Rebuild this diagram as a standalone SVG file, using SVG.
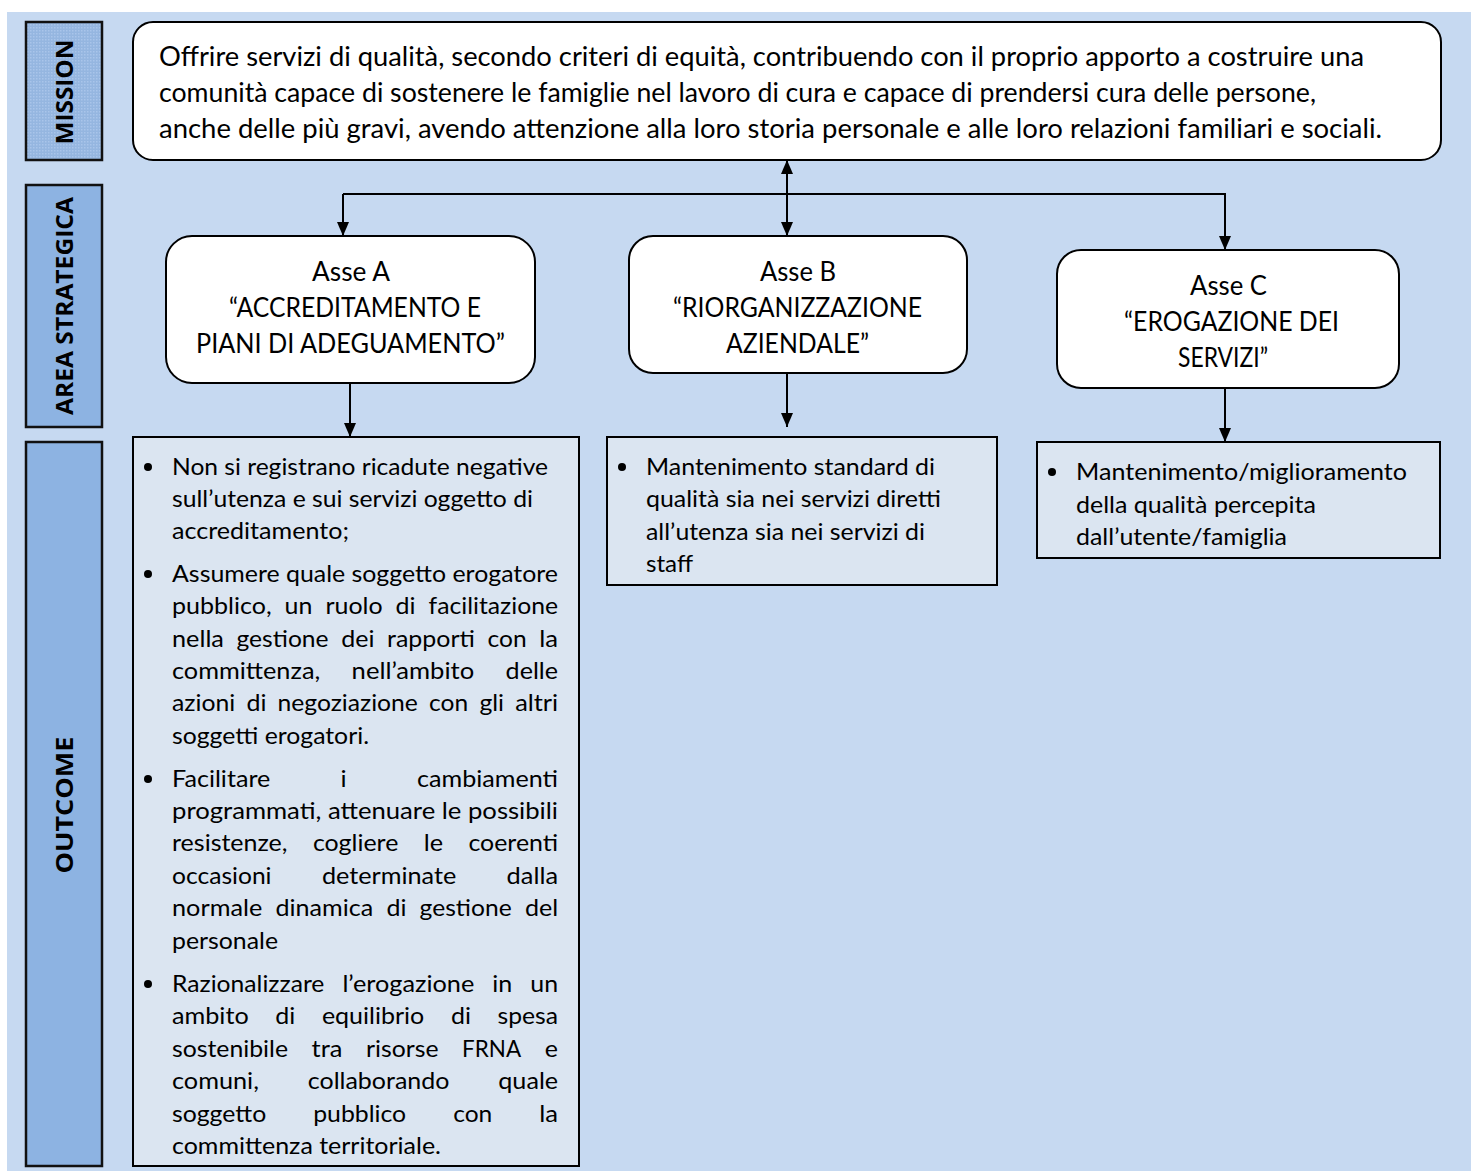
<svg xmlns="http://www.w3.org/2000/svg" width="1476" height="1171" viewBox="0 0 1476 1171">
<defs>
<style>
.t{font-family:Lato,"Open Sans","Liberation Sans",sans-serif;fill:#000}
.m{font-size:26px}
.a{font-size:26px}
.o{font-size:24px}
.lab{font-family:"Open Sans",Lato,"Liberation Sans",sans-serif;font-size:23px;font-weight:bold;fill:#000}
.node{fill:#fff;stroke:#000;stroke-width:2}
.out{fill:#dbe5f1;stroke:#000;stroke-width:2}
.lbox{stroke:#111;stroke-width:2.5}
.c{fill:none;stroke:#000;stroke-width:2}
</style>
<pattern id="dots" width="3" height="3" patternUnits="userSpaceOnUse">
<rect width="3" height="3" fill="#95b6e0"/>
<rect width="1.5" height="1.5" fill="#a9c5ea"/>
</pattern>
<marker id="ah" viewBox="0 0 14 12" refX="14" refY="6" markerWidth="14" markerHeight="12" markerUnits="userSpaceOnUse" orient="auto">
<path d="M0,0 L14,6 L0,12 Z" fill="#000"/>
</marker>
<marker id="ahs" viewBox="0 0 14 12" refX="0" refY="6" markerWidth="14" markerHeight="12" markerUnits="userSpaceOnUse" orient="auto">
<path d="M14,0 L0,6 L14,12 Z" fill="#000"/>
</marker>
</defs>
<rect x="0" y="0" width="1476" height="1171" fill="#fff"/>
<rect x="7" y="12" width="1464" height="1159" fill="#c6d9f1"/>

<g id="label-mission">
<rect class="lbox" x="26" y="22" width="76" height="138" fill="url(#dots)"/>
<text class="lab" transform="translate(73,92) rotate(-90)" text-anchor="middle" textLength="105" lengthAdjust="spacingAndGlyphs">MISSION</text>
</g>
<g id="label-area">
<rect class="lbox" x="26" y="185" width="76" height="242" fill="#8db3e2"/>
<text class="lab" transform="translate(73,306) rotate(-90)" text-anchor="middle" textLength="218" lengthAdjust="spacingAndGlyphs">AREA STRATEGICA</text>
</g>
<g id="label-outcome">
<rect class="lbox" x="26" y="442" width="76" height="724" fill="#8db3e2"/>
<text class="lab" transform="translate(73,805) rotate(-90)" text-anchor="middle" textLength="137" lengthAdjust="spacingAndGlyphs">OUTCOME</text>
</g>

<g id="connectors">
<path class="c" d="M787,160 V236" marker-start="url(#ahs)" marker-end="url(#ah)"/>
<path class="c" d="M343,194 H1225 V250" marker-end="url(#ah)"/>
<path class="c" d="M343,194 V236" marker-end="url(#ah)"/>
<path class="c" d="M350,383 V437" marker-end="url(#ah)"/>
<path class="c" d="M787,373 V427" marker-end="url(#ah)"/>
<path class="c" d="M1225,388 V442" marker-end="url(#ah)"/>
</g>

<g id="mission">
<rect class="node" x="133" y="22" width="1308" height="138" rx="20"/>
<text class="t m" x="159" y="66" textLength="1205" lengthAdjust="spacingAndGlyphs">Offrire servizi di qualità, secondo criteri di equità, contribuendo con il proprio apporto a costruire una</text>
<text class="t m" x="159" y="102" textLength="1157" lengthAdjust="spacingAndGlyphs">comunità capace di sostenere le famiglie nel lavoro di cura e capace di prendersi cura delle persone,</text>
<text class="t m" x="159" y="138" textLength="1223" lengthAdjust="spacingAndGlyphs">anche delle più gravi, avendo attenzione alla loro storia personale e alle loro relazioni familiari e sociali.</text>
</g>

<g id="asse-a">
<rect class="node" x="166" y="236" width="369" height="147" rx="26"/>
<text class="t a" x="351" y="281" text-anchor="middle" textLength="78" lengthAdjust="spacingAndGlyphs">Asse A</text>
<text class="t a" x="355" y="317" text-anchor="middle" textLength="252" lengthAdjust="spacingAndGlyphs">“ACCREDITAMENTO E</text>
<text class="t a" x="350.5" y="353" text-anchor="middle" textLength="309" lengthAdjust="spacingAndGlyphs">PIANI DI ADEGUAMENTO”</text>
</g>

<g id="asse-b">
<rect class="node" x="629" y="236" width="338" height="137" rx="24"/>
<text class="t a" x="798" y="281" text-anchor="middle" textLength="76" lengthAdjust="spacingAndGlyphs">Asse B</text>
<text class="t a" x="797.5" y="317" text-anchor="middle" textLength="249" lengthAdjust="spacingAndGlyphs">“RIORGANIZZAZIONE</text>
<text class="t a" x="797.5" y="353" text-anchor="middle" textLength="143" lengthAdjust="spacingAndGlyphs">AZIENDALE”</text>
</g>

<g id="asse-c">
<rect class="node" x="1057" y="250" width="342" height="138" rx="24"/>
<text class="t a" x="1228.5" y="295" text-anchor="middle" textLength="77" lengthAdjust="spacingAndGlyphs">Asse C</text>
<text class="t a" x="1231.5" y="331" text-anchor="middle" textLength="215" lengthAdjust="spacingAndGlyphs">“EROGAZIONE DEI</text>
<text class="t a" x="1223" y="367" text-anchor="middle" textLength="90" lengthAdjust="spacingAndGlyphs">SERVIZI”</text>
</g>

<g id="outcome-a">
<rect class="out" x="133" y="437" width="446" height="729"/>
<circle cx="148" cy="467" r="4"/>
<circle cx="148" cy="574" r="4"/>
<circle cx="148" cy="779" r="4"/>
<circle cx="148" cy="984" r="4"/>
<text class="t o" x="172" y="475" textLength="376" lengthAdjust="spacingAndGlyphs">Non si registrano ricadute negative</text>
<text class="t o" x="172" y="507" textLength="361" lengthAdjust="spacingAndGlyphs">sull’utenza e sui servizi oggetto di</text>
<text class="t o" x="172" y="539" textLength="177" lengthAdjust="spacingAndGlyphs">accreditamento;</text>

<text class="t o" x="172" y="582" textLength="386" lengthAdjust="spacingAndGlyphs">Assumere quale soggetto erogatore</text>
<text class="t o" x="172" y="614" textLength="99.6" lengthAdjust="spacingAndGlyphs">pubblico,</text>
<text class="t o" x="284.6" y="614" textLength="27.8" lengthAdjust="spacingAndGlyphs">un</text>
<text class="t o" x="325.4" y="614" textLength="57.2" lengthAdjust="spacingAndGlyphs">ruolo</text>
<text class="t o" x="395.6" y="614" textLength="20" lengthAdjust="spacingAndGlyphs">di</text>
<text class="t o" x="428.6" y="614" textLength="129.4" lengthAdjust="spacingAndGlyphs">facilitazione</text>

<text class="t o" x="172" y="647" textLength="51.9" lengthAdjust="spacingAndGlyphs">nella</text>
<text class="t o" x="236.5" y="647" textLength="92.1" lengthAdjust="spacingAndGlyphs">gestione</text>
<text class="t o" x="341.2" y="647" textLength="33.2" lengthAdjust="spacingAndGlyphs">dei</text>
<text class="t o" x="387" y="647" textLength="87.9" lengthAdjust="spacingAndGlyphs">rapporti</text>
<text class="t o" x="487.5" y="647" textLength="39.1" lengthAdjust="spacingAndGlyphs">con</text>
<text class="t o" x="539.2" y="647" textLength="18.8" lengthAdjust="spacingAndGlyphs">la</text>

<text class="t o" x="172" y="679" textLength="148.2" lengthAdjust="spacingAndGlyphs">committenza,</text>
<text class="t o" x="351.6" y="679" textLength="122.6" lengthAdjust="spacingAndGlyphs">nell’ambito</text>
<text class="t o" x="505.6" y="679" textLength="52.4" lengthAdjust="spacingAndGlyphs">delle</text>

<text class="t o" x="172" y="711" textLength="63.2" lengthAdjust="spacingAndGlyphs">azioni</text>
<text class="t o" x="246.4" y="711" textLength="20" lengthAdjust="spacingAndGlyphs">di</text>
<text class="t o" x="277.5" y="711" textLength="140.4" lengthAdjust="spacingAndGlyphs">negoziazione</text>
<text class="t o" x="429.1" y="711" textLength="39.1" lengthAdjust="spacingAndGlyphs">con</text>
<text class="t o" x="479.4" y="711" textLength="24.6" lengthAdjust="spacingAndGlyphs">gli</text>
<text class="t o" x="515.2" y="711" textLength="43" lengthAdjust="spacingAndGlyphs">altri</text>

<text class="t o" x="172" y="744" textLength="197" lengthAdjust="spacingAndGlyphs">soggetti erogatori.</text>

<text class="t o" x="172" y="787" textLength="98.3" lengthAdjust="spacingAndGlyphs">Facilitare</text>
<text class="t o" x="340.6" y="787" textLength="6.1" lengthAdjust="spacingAndGlyphs">i</text>
<text class="t o" x="417" y="787" textLength="141" lengthAdjust="spacingAndGlyphs">cambiamenti</text>

<text class="t o" x="172" y="819" textLength="386" lengthAdjust="spacingAndGlyphs">programmati, attenuare le possibili</text>

<text class="t o" x="172" y="851" textLength="115.5" lengthAdjust="spacingAndGlyphs">resistenze,</text>
<text class="t o" x="312.9" y="851" textLength="85.4" lengthAdjust="spacingAndGlyphs">cogliere</text>
<text class="t o" x="423.7" y="851" textLength="19.3" lengthAdjust="spacingAndGlyphs">le</text>
<text class="t o" x="468.4" y="851" textLength="89.7" lengthAdjust="spacingAndGlyphs">coerenti</text>

<text class="t o" x="172" y="884" textLength="99.5" lengthAdjust="spacingAndGlyphs">occasioni</text>
<text class="t o" x="321.9" y="884" textLength="134.4" lengthAdjust="spacingAndGlyphs">determinate</text>
<text class="t o" x="506.6" y="884" textLength="51.4" lengthAdjust="spacingAndGlyphs">dalla</text>

<text class="t o" x="172" y="916" textLength="90.3" lengthAdjust="spacingAndGlyphs">normale</text>
<text class="t o" x="275.5" y="916" textLength="97.7" lengthAdjust="spacingAndGlyphs">dinamica</text>
<text class="t o" x="386.4" y="916" textLength="20" lengthAdjust="spacingAndGlyphs">di</text>
<text class="t o" x="419.6" y="916" textLength="92.1" lengthAdjust="spacingAndGlyphs">gestione</text>
<text class="t o" x="524.9" y="916" textLength="33.2" lengthAdjust="spacingAndGlyphs">del</text>

<text class="t o" x="172" y="949" textLength="106" lengthAdjust="spacingAndGlyphs">personale</text>

<text class="t o" x="172" y="992" textLength="152.4" lengthAdjust="spacingAndGlyphs">Razionalizzare</text>
<text class="t o" x="342.4" y="992" textLength="131.9" lengthAdjust="spacingAndGlyphs">l’erogazione</text>
<text class="t o" x="492.3" y="992" textLength="20" lengthAdjust="spacingAndGlyphs">in</text>
<text class="t o" x="530.3" y="992" textLength="27.8" lengthAdjust="spacingAndGlyphs">un</text>

<text class="t o" x="172" y="1024" textLength="76.7" lengthAdjust="spacingAndGlyphs">ambito</text>
<text class="t o" x="275.3" y="1024" textLength="20" lengthAdjust="spacingAndGlyphs">di</text>
<text class="t o" x="321.9" y="1024" textLength="102.4" lengthAdjust="spacingAndGlyphs">equilibrio</text>
<text class="t o" x="450.9" y="1024" textLength="20" lengthAdjust="spacingAndGlyphs">di</text>
<text class="t o" x="497.5" y="1024" textLength="60.5" lengthAdjust="spacingAndGlyphs">spesa</text>

<text class="t o" x="172" y="1057" textLength="116" lengthAdjust="spacingAndGlyphs">sostenibile</text>
<text class="t o" x="311.6" y="1057" textLength="30.8" lengthAdjust="spacingAndGlyphs">tra</text>
<text class="t o" x="366" y="1057" textLength="72.5" lengthAdjust="spacingAndGlyphs">risorse</text>
<text class="t o" x="462.1" y="1057" textLength="59" lengthAdjust="spacingAndGlyphs">FRNA</text>
<text class="t o" x="544.7" y="1057" textLength="13.2" lengthAdjust="spacingAndGlyphs">e</text>

<text class="t o" x="172" y="1089" textLength="86.9" lengthAdjust="spacingAndGlyphs">comuni,</text>
<text class="t o" x="307.8" y="1089" textLength="141.6" lengthAdjust="spacingAndGlyphs">collaborando</text>
<text class="t o" x="498.3" y="1089" textLength="59.8" lengthAdjust="spacingAndGlyphs">quale</text>

<text class="t o" x="172" y="1122" textLength="94.2" lengthAdjust="spacingAndGlyphs">soggetto</text>
<text class="t o" x="313.2" y="1122" textLength="93" lengthAdjust="spacingAndGlyphs">pubblico</text>
<text class="t o" x="453.2" y="1122" textLength="39.1" lengthAdjust="spacingAndGlyphs">con</text>
<text class="t o" x="539.3" y="1122" textLength="18.8" lengthAdjust="spacingAndGlyphs">la</text>

<text class="t o" x="172" y="1154" textLength="269" lengthAdjust="spacingAndGlyphs">committenza territoriale.</text>
</g>

<g id="outcome-b">
<rect class="out" x="607" y="437" width="390" height="148"/>
<circle cx="622" cy="467" r="4"/>
<text class="t o" x="646" y="475" textLength="289" lengthAdjust="spacingAndGlyphs">Mantenimento standard di</text>
<text class="t o" x="646" y="507" textLength="295" lengthAdjust="spacingAndGlyphs">qualità sia nei servizi diretti</text>
<text class="t o" x="646" y="540" textLength="279" lengthAdjust="spacingAndGlyphs">all’utenza sia nei servizi di</text>
<text class="t o" x="646" y="572" textLength="47" lengthAdjust="spacingAndGlyphs">staff</text>
</g>

<g id="outcome-c">
<rect class="out" x="1037" y="442" width="403" height="116"/>
<circle cx="1052" cy="472" r="4"/>
<text class="t o" x="1076" y="480" textLength="331" lengthAdjust="spacingAndGlyphs">Mantenimento/miglioramento</text>
<text class="t o" x="1076" y="513" textLength="240" lengthAdjust="spacingAndGlyphs">della qualità percepita</text>
<text class="t o" x="1076" y="545" textLength="211" lengthAdjust="spacingAndGlyphs">dall’utente/famiglia</text>
</g>
</svg>
